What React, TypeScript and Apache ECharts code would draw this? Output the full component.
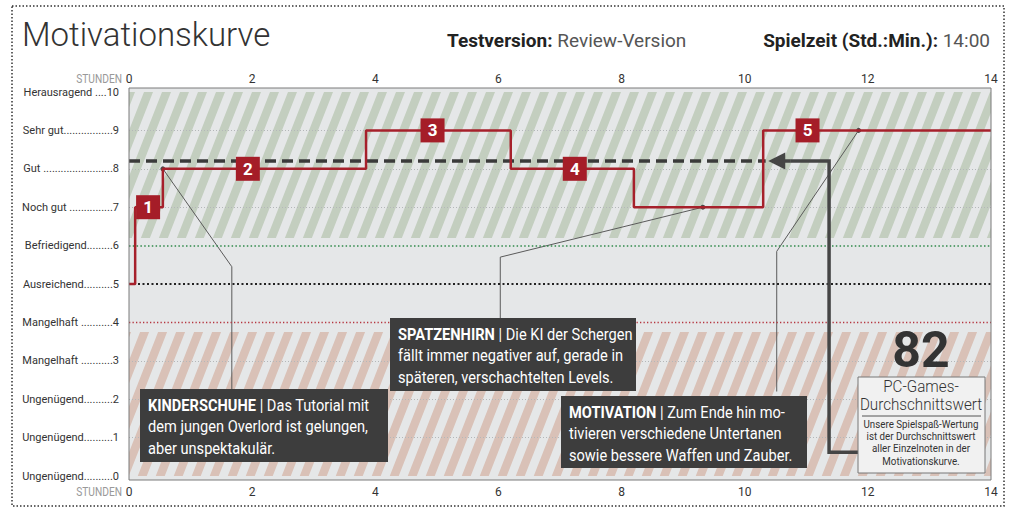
import React, { useEffect, useRef } from "react";
import * as echarts from "echarts";

// ---------- data ----------
const hourTicks = [0, 2, 4, 6, 8, 10, 12, 14];
const gradeNames = [
  "Ungenügend", "Ungenügend", "Ungenügend", "Mangelhaft ", "Mangelhaft ",
  "Ausreichend", "Befriedigend", "Noch gut ", "Gut ", "Sehr gut", "Herausragend ",
];
const curveHours = [0, 0.1, 0.55, 3.85, 6.2, 8.2, 10.3, 14];
const curveValues = [5, 7, 8, 9, 8, 7, 9, 9];
const boxLabels = ["1", "2", "3", "4", "5"];
const boxHours = [0.31, 1.93, 4.93, 7.24, 11.02];
const boxValues = [7, 8, 9, 8, 9];
const averageScore = "82";
const averageValue = 8.2;
const averageLineEnd = 10.34;
const arrowBody = [[11.84, 0.62], [11.37, 0.62], [11.37, 8.2], [10.75, 8.2]];
const arrowHead = [[10.75, 8.2], [10.52, 8.2]];
const calloutPaths = [
  [[0.55, 8], [1.67, 5.45], [1.67, 2.25]],
  [[9.32, 7], [6.03, 5.7], [6.03, 4.1]],
  [[11.85, 9], [10.52, 5.85], [10.52, 2.2]],
];
const greenBand = [6.2, 10.1];
const redBand = [-0.1, 3.75];
const colouredLevels = [4, 5, 6];

const calloutHeads = ["KINDERSCHUHE", "SPATZENHIRN", "MOTIVATION"];
const calloutBodies = [
  " | Das Tutorial mit\ndem jungen Overlord ist gelungen,\naber unspektakulär.",
  " | Die KI der Schergen\nfällt immer negativer auf, gerade in\nspäteren, verschachtelten Levels.",
  " | Zum Ende hin mo-\ntivieren verschiedene Untertanen\nsowie bessere Waffen und Zauber.",
];

const SANS = "Roboto, 'Open Sans', 'Noto Sans', sans-serif";

function makeStripe(color: string) {
  const W = 18;
  const H = 46;
  const c = document.createElement("canvas");
  c.width = W;
  c.height = H;
  const ctx = c.getContext("2d")!;
  ctx.fillStyle = color;
  for (const o of [-W, 0, W]) {
    ctx.beginPath();
    ctx.moveTo(o, H);
    ctx.lineTo(o + 9, H);
    ctx.lineTo(o + 9 + W, 0);
    ctx.lineTo(o + W, 0);
    ctx.closePath();
    ctx.fill();
  }
  return { image: c, repeat: "repeat", imageWidth: W, imageHeight: H } as any;
}

function buildLabels() {
  const c = document.createElement("canvas");
  const ctx = c.getContext("2d")!;
  ctx.font = "11px " + SANS;
  const target = 97;
  return gradeNames.map((n, v) => {
    let dots = "";
    while (ctx.measureText(n + dots + "." + String(v)).width <= target) dots += ".";
    return n + dots + String(v);
  });
}

export default function App() {
  const ref = useRef<HTMLDivElement>(null);
  useEffect(() => {
    document.body.style.margin = "0";
    const chart = echarts.init(ref.current!, null, { renderer: "svg" });
    const labels = buildLabels();
    const greenPattern = makeStripe("#c3cebf");
    const redPattern = makeStripe("#d9c1b7");

    const splitColors = [0, 1, 2, 3, 4, 5, 6, 7, 8, 9, 10].map((v) =>
      v === 0 || v === 10 || colouredLevels.includes(v) ? "rgba(0,0,0,0)" : "#b4b7b9"
    );

    const textBoxes = [
      { x: 140, y: 389, w: 248, h: 73 },
      { x: 390, y: 318, w: 246, h: 73 },
      { x: 561, y: 396, w: 246, h: 72 },
    ];

    const graphics: any[] = [
      {
        type: "rect",
        shape: { x: 12, y: 6, width: 992, height: 500 },
        style: { fill: "#fff", stroke: "#333", lineWidth: 1.5, lineDash: [1.5, 2] },
        z: -3,
        silent: true,
      },
      {
        type: "rect",
        shape: { x: 129, y: 88, width: 862, height: 392 },
        style: { fill: "#e5e7e8" },
        z: -2,
        silent: true,
      },
      {
        type: "rect",
        shape: { x: 129, y: 88, width: 862, height: 392 },
        style: { fill: "none", stroke: "#7a7a7a", lineWidth: 1 },
        z: 8,
        silent: true,
      },
      {
        type: "text",
        x: 22,
        y: 34,
        style: { text: "Motivationskurve", font: "300 33px " + SANS, fill: "#333", verticalAlign: "middle" },
        z: 20,
      },
      {
        type: "text",
        x: 447,
        y: 40,
        style: {
          text: "{b|Testversion:} Review-Version",
          font: "19px " + SANS,
          fill: "#555",
          verticalAlign: "middle",
          rich: { b: { font: "bold 19px " + SANS, fill: "#222" } },
        },
        z: 20,
      },
      {
        type: "text",
        x: 990,
        y: 40,
        style: {
          text: "{b|Spielzeit (Std.:Min.):} 14:00",
          font: "19px " + SANS,
          fill: "#555",
          align: "right",
          verticalAlign: "middle",
          rich: { b: { font: "bold 19px " + SANS, fill: "#222" } },
        },
        z: 20,
      },
      {
        type: "text",
        x: 122,
        y: 79,
        scaleX: 0.85,
        style: { text: "STUNDEN", font: "12px " + SANS, fill: "#999", align: "right", verticalAlign: "middle" },
        z: 20,
      },
      {
        type: "text",
        x: 122,
        y: 492,
        scaleX: 0.85,
        style: { text: "STUNDEN", font: "12px " + SANS, fill: "#999", align: "right", verticalAlign: "middle" },
        z: 20,
      },
    ];

    textBoxes.forEach((b, i) => {
      graphics.push({
        type: "rect",
        shape: { x: b.x, y: b.y, width: b.w, height: b.h },
        style: { fill: "#3d3d3d" },
        z: 18,
      });
      graphics.push({
        type: "text",
        x: b.x + 8,
        y: b.y + 5,
        scaleX: 0.86,
        style: {
          text: "{h|" + calloutHeads[i] + "}" + calloutBodies[i],
          font: "17px " + SANS,
          fill: "#fff",
          lineHeight: 21.5,
          rich: { h: { font: "bold 17px " + SANS, fill: "#fff", lineHeight: 21.5 } },
        },
        z: 19,
      });
    });

    // average score box
    graphics.push(
      {
        type: "text",
        x: 921,
        y: 350,
        style: { text: averageScore, font: "bold 50px " + SANS, fill: "#333", align: "center", verticalAlign: "middle" },
        z: 20,
      },
      {
        type: "rect",
        shape: { x: 858, y: 377, width: 127, height: 96 },
        style: { fill: "#f1f1f1", stroke: "#777", lineWidth: 1 },
        z: 18,
      },
      {
        type: "text",
        x: 921,
        y: 396,
        scaleX: 0.95,
        style: {
          text: "PC-Games-\nDurchschnittswert",
          font: "300 16px " + SANS,
          fill: "#333",
          align: "center",
          verticalAlign: "middle",
          lineHeight: 18,
        },
        z: 20,
      },
      {
        type: "line",
        shape: { x1: 862, y1: 416, x2: 981, y2: 416 },
        style: { stroke: "#555", lineWidth: 1 },
        z: 20,
      },
      {
        type: "text",
        x: 921,
        y: 442.5,
        scaleX: 0.85,
        style: {
          text: "Unsere Spielspaß-Wertung\nist der Durchschnittswert\naller Einzelnoten in der\nMotivationskurve.",
          font: "11.5px " + SANS,
          fill: "#333",
          align: "center",
          verticalAlign: "middle",
          lineHeight: 12.3,
        },
        z: 20,
      }
    );

    const axisCommon = {
      type: "value",
      min: 0,
      max: 14,
      interval: 2,
      axisLine: { show: false },
      axisTick: { show: false },
    };

    chart.setOption({
      animation: false,
      grid: { left: 129, right: 29, top: 92, bottom: 39 },
      xAxis: [
        {
          ...axisCommon,
          position: "bottom",
          z: 3,
          axisLabel: { margin: 10, fontSize: 12, fontFamily: SANS, color: "#333" },
          splitLine: { show: false },
        },
        {
          ...axisCommon,
          position: "top",
          z: 3,
          axisLabel: { margin: 7, fontSize: 12, fontFamily: SANS, color: "#333" },
          splitLine: { show: false },
        },
      ],
      yAxis: {
        type: "value",
        min: 0,
        max: 10,
        interval: 1,
        z: 3,
        axisLine: { show: false },
        axisTick: { show: false },
        axisLabel: {
          margin: 10,
          fontSize: 11,
          fontFamily: SANS,
          color: "#333",
          formatter: (v: number) => labels[Math.round(v)] ?? "",
        },
        splitLine: { show: true, lineStyle: { color: splitColors, type: [1, 2], width: 1 } },
      },
      graphic: { elements: graphics },
      series: [
        {
          type: "line",
          data: [],
          z: 1,
          silent: true,
          clip: false,
          markArea: {
            silent: true,
            emphasis: { disabled: true },
            data: [
              [
                { coord: [0, greenBand[0]], itemStyle: { color: greenPattern } },
                { coord: [14, greenBand[1]] },
              ],
              [
                { coord: [0, redBand[0]], itemStyle: { color: redPattern } },
                { coord: [14, redBand[1]] },
              ],
            ],
          },
        },
        {
          type: "line",
          data: [],
          z: 3,
          silent: true,
          clip: false,
          markLine: {
            silent: true,
            symbol: "none",
            label: { show: false },
            emphasis: { disabled: true },
            data: [
              ...hourTicks.slice(1, -1).map((h) => [
                { coord: [h, -0.1], lineStyle: { color: "#9c9fa1", width: 1, type: "solid" } },
                { coord: [h, 10.1] },
              ]),
              [
                { coord: [0, colouredLevels[0]], lineStyle: { color: "#b5343e", width: 1.3, type: [1.3, 2.2] } },
                { coord: [14, colouredLevels[0]] },
              ],
              [
                { coord: [0, colouredLevels[1]], lineStyle: { color: "#222", width: 2, type: [2, 2.5] } },
                { coord: [14, colouredLevels[1]] },
              ],
              [
                { coord: [0, colouredLevels[2]], lineStyle: { color: "#2f8a4a", width: 1.5, type: [1.5, 2.3] } },
                { coord: [14, colouredLevels[2]] },
              ],
            ],
          },
        },
        {
          type: "lines",
          coordinateSystem: "cartesian2d",
          polyline: true,
          z: 4,
          silent: true,
          lineStyle: { color: "#5a5a5a", width: 1, opacity: 1 },
          data: calloutPaths.map((p) => ({ coords: p })),
        },
        {
          type: "scatter",
          z: 4,
          silent: true,
          symbol: "circle",
          symbolSize: 5,
          itemStyle: { color: "#4a4a4a", opacity: 1 },
          data: calloutPaths.map((p) => p[0]),
        },
        {
          type: "line",
          z: 4,
          silent: true,
          showSymbol: false,
          symbol: "none",
          lineStyle: { color: "#3a3a3a", width: 3.5, type: [11, 6] },
          data: [[0, averageValue], [averageLineEnd, averageValue]],
        },
        {
          type: "line",
          z: 5,
          silent: true,
          step: "end",
          symbol: "none",
          showSymbol: false,
          lineStyle: { color: "#a6202b", width: 2.5 },
          data: curveHours.map((h, i) => [h, curveValues[i]]),
        },
        {
          type: "lines",
          coordinateSystem: "cartesian2d",
          polyline: true,
          z: 6,
          silent: true,
          lineStyle: { color: "#454545", width: 3.5, opacity: 1 },
          data: [{ coords: arrowBody }],
        },
        {
          type: "lines",
          coordinateSystem: "cartesian2d",
          z: 6,
          silent: true,
          symbol: ["none", "triangle"],
          symbolSize: 17,
          lineStyle: { color: "#454545", width: 3.5, opacity: 1 },
          data: [{ coords: arrowHead }],
        },
        {
          type: "scatter",
          z: 7,
          silent: true,
          symbol: "rect",
          symbolSize: 24,
          itemStyle: { color: "#a51d28", opacity: 1 },
          label: {
            show: true,
            position: "inside",
            color: "#fff",
            fontWeight: "bold",
            fontSize: 17,
            fontFamily: SANS,
            formatter: (p: any) => boxLabels[p.dataIndex],
          },
          data: boxHours.map((h, i) => [h, boxValues[i]]),
        },
      ],
    });
    return () => chart.dispose();
  }, []);
  return <div ref={ref} style={{ width: 1020, height: 515 }} />;
}
